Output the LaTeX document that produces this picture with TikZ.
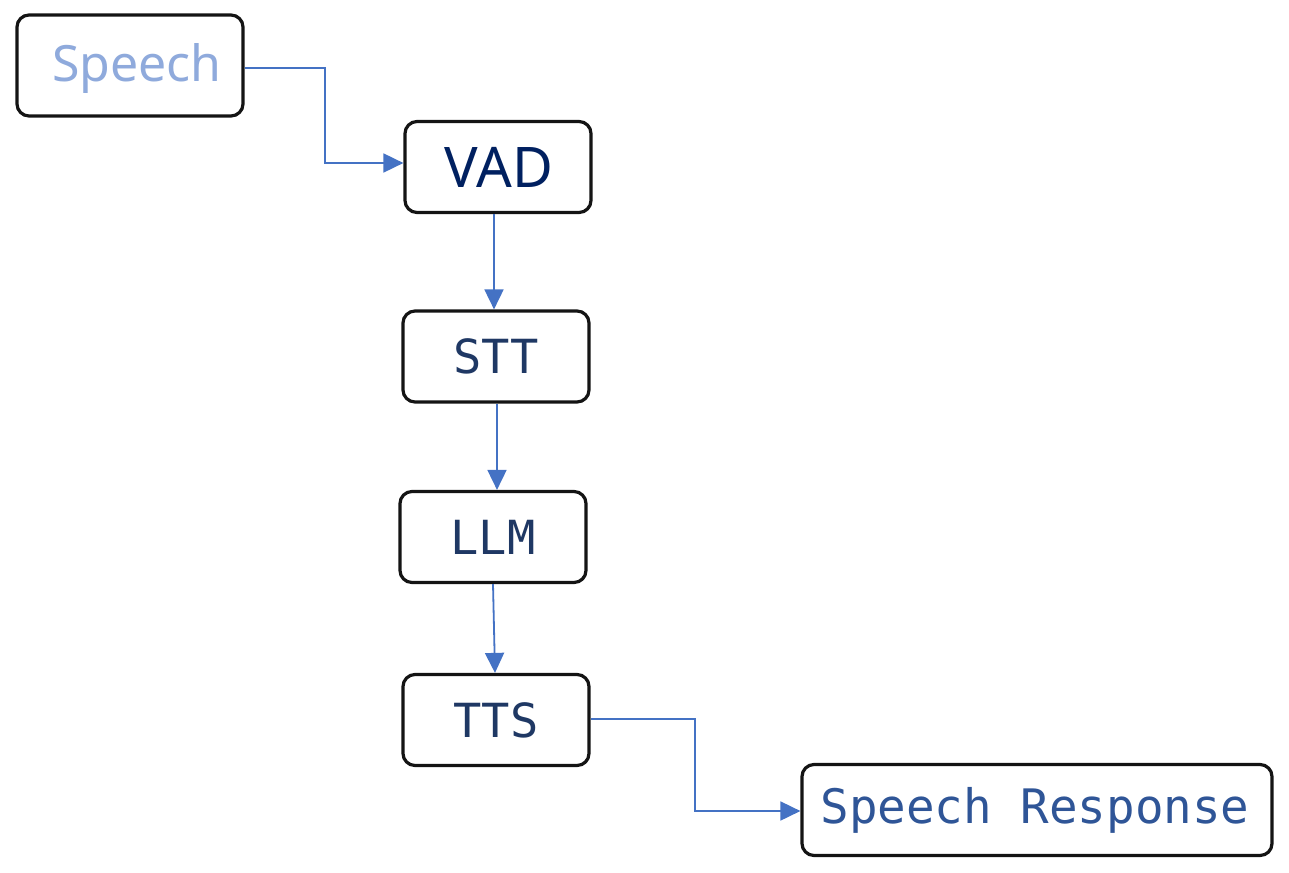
\documentclass[tikz,border=0pt]{standalone}
\usepackage{fontspec}
\newfontfamily\boxsans{Noto Sans}
\newfontfamily\boxmono{DejaVu Sans Mono}
\usetikzlibrary{arrows.meta}
\definecolor{lightblue}{HTML}{8FAADC}
\definecolor{navy}{HTML}{002060}
\definecolor{darkblue}{HTML}{1F3864}
\definecolor{midblue}{HTML}{2F5597}
\definecolor{arrowblue}{HTML}{4472C4}
\begin{document}
\begin{tikzpicture}[x=1pt,y=-1pt,
  box/.style={draw=black!92, line width=3.2pt, rounded corners=12pt, fill=white,
    minimum height=91pt, inner sep=0pt, anchor=center},
  arr/.style={draw=arrowblue, line width=1.8pt, -{Triangle[length=20pt,width=19pt]}}]
\useasboundingbox (0,0) rectangle (1289,872);
\node[box, minimum width=226pt, minimum height=101pt, text=lightblue,
  text height=36pt, text depth=3pt,
  font=\boxsans\fontsize{50}{58}\selectfont] (sp) at (130,65.5) {\hspace{14pt}Speech};
\node[box, minimum width=186pt, text=navy,
  font=\boxsans\fontsize{56}{64}\selectfont] (vad) at (498,167) {\hspace{2pt}VAD};
\node[box, minimum width=186pt, text=darkblue,
  font=\boxmono\fontsize{47}{54}\selectfont] (stt) at (496,356.5) {STT};
\node[box, minimum width=186pt, text=darkblue,
  font=\boxmono\fontsize{47}{54}\selectfont] (llm) at (493,537) {LLM};
\node[box, minimum width=186pt, text=darkblue,
  font=\boxmono\fontsize{47}{54}\selectfont] (tts) at (496,720) {TTS};
\node[box, minimum width=470pt, text=midblue,
  font=\boxmono\fontsize{47.5}{54}\selectfont] (sr) at (1037,810) {\hspace{-4pt}Speech Response};
\draw[arr] ([yshift=-2.5pt]sp.east) -- ++(80,0) |- ([yshift=4pt]vad.west);
\draw[arr] ([xshift=-4pt]vad.south) -- ([xshift=-2pt]stt.north);
\draw[arr] ([xshift=1pt]stt.south) -- ([xshift=4pt]llm.north);
\draw[arr] (llm.south) -- ([xshift=-1pt]tts.north);
\draw[arr] ([yshift=1pt]tts.east) -- ++(104,0) |- ([yshift=-1pt]sr.west);
\end{tikzpicture}
\end{document}
